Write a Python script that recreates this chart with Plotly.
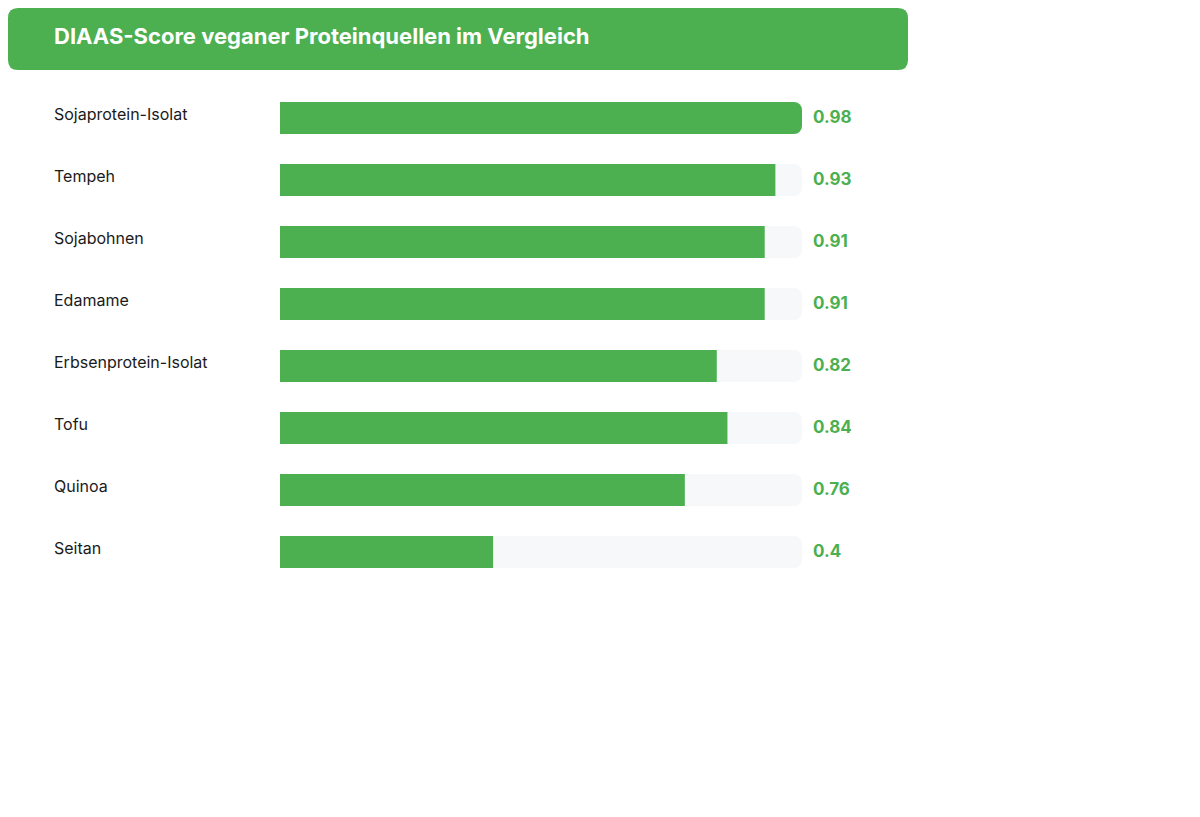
import plotly.graph_objects as go

categories = ["Sojaprotein-Isolat", "Tempeh", "Sojabohnen", "Edamame",
              "Erbsenprotein-Isolat", "Tofu", "Quinoa", "Seitan"]
scores = [0.98, 0.93, 0.91, 0.91, 0.82, 0.84, 0.76, 0.4]
title = "DIAAS-Score veganer Proteinquellen im Vergleich"

W, H = 1200, 817
GREEN = "#4caf50"
track_max = max(scores)

fig = go.Figure()
fig.add_bar(y=categories, x=[track_max] * len(categories), orientation="h",
            marker=dict(color="#f6f8fa", cornerradius=8, line_width=0),
            hoverinfo="skip", width=0.516)
fig.add_bar(y=categories, x=scores, orientation="h",
            marker=dict(color=GREEN, cornerradius=8, line_width=0),
            hoverinfo="skip", width=0.516)

for c, s in zip(categories, scores):
    fig.add_annotation(x=44 / W, xref="paper", y=c, yref="y", text=c, showarrow=False,
                       xanchor="left", yanchor="middle", yshift=4,
                       font=dict(family="Inter, Helvetica, Arial", size=16, color="#1a1a1a"))
    fig.add_annotation(x=803 / W, xref="paper", y=c, yref="y", text=f"<b>{s:g}</b>", showarrow=False,
                       xanchor="left", yanchor="middle", yshift=1,
                       font=dict(family="Inter, Helvetica, Arial", size=17, color=GREEN))

# header
def px(x): return x / W
def py(y): return 1 - y / H
r = 10
x0, x1, y0, y1 = 0, 900, 0, 62
path = (f"M {px(x0+r)} {py(y0)} L {px(x1-r)} {py(y0)} Q {px(x1)} {py(y0)} {px(x1)} {py(y0+r)} "
        f"L {px(x1)} {py(y1-r)} Q {px(x1)} {py(y1)} {px(x1-r)} {py(y1)} "
        f"L {px(x0+r)} {py(y1)} Q {px(x0)} {py(y1)} {px(x0)} {py(y1-r)} "
        f"L {px(x0)} {py(y0+r)} Q {px(x0)} {py(y0)} {px(x0+r)} {py(y0)} Z")
fig.add_shape(type="path", path=path, xref="paper", yref="paper",
              fillcolor=GREEN, line_width=0, layer="below")
fig.add_annotation(x=44 / W, y=py(28), xref="paper", yref="paper", text=f"<b>{title}</b>",
                   showarrow=False, xanchor="left", yanchor="middle",
                   font=dict(family="Inter, Helvetica, Arial", size=22, color="white"))

fig.update_layout(
    width=W, height=H, margin=dict(l=0, r=0, t=0, b=0),
    paper_bgcolor="white", plot_bgcolor="white", barmode="overlay",
    showlegend=False, hovermode=False,
    xaxis=dict(domain=[272 / W, (272 + 1 / track_max * 522) / W], range=[0, 1],
               visible=False, fixedrange=True),
    yaxis=dict(domain=[1 - 575 / H, 1 - 79 / H], range=[7.5, -0.5],
               visible=False, fixedrange=True),
)
fig.write_html("out.html")
